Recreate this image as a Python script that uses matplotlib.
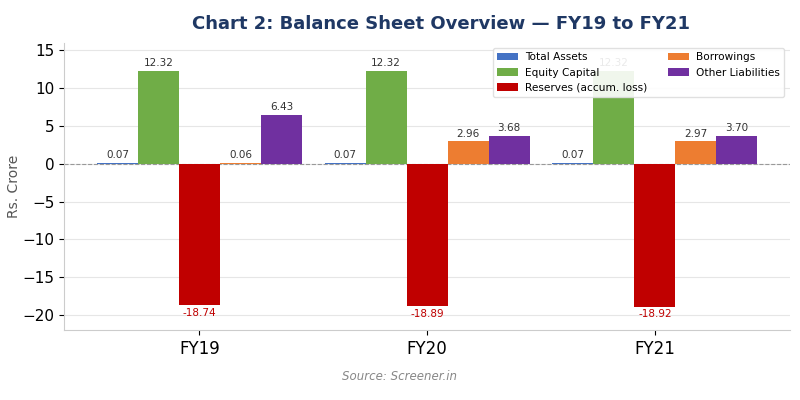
import matplotlib
matplotlib.use("Agg")
import matplotlib.pyplot as plt
import numpy as np

years = ["FY19", "FY20", "FY21"]
series_names = ["Total Assets", "Equity Capital", "Reserves (accum. loss)", "Borrowings", "Other Liabilities"]
total_assets = [0.07, 0.07, 0.07]
equity_capital = [12.32, 12.32, 12.32]
reserves = [-18.74, -18.89, -18.92]
borrowings = [0.06, 2.96, 2.97]
other_liabilities = [6.43, 3.68, 3.70]
colors = ["#4472C4", "#70AD47", "#C00000", "#ED7D31", "#7030A0"]

data = [total_assets, equity_capital, reserves, borrowings, other_liabilities]

fig, ax = plt.subplots(figsize=(8, 4), dpi=100)
fig.subplots_adjust(left=0.08, right=0.988, top=0.893, bottom=0.175)

x = np.arange(len(years))
w = 0.18
for i, (name, vals, c) in enumerate(zip(series_names, data, colors)):
    pos = x + (i - 2) * w
    ax.bar(pos, vals, w, color=c, label=name, zorder=3)
    for p, v in zip(pos, vals):
        if v >= 0:
            ax.annotate(f"{v:.2f}", (p, v), xytext=(0, 2), textcoords="offset points",
                        ha="center", va="bottom", fontsize=7.5, color="#333333", zorder=4)
        else:
            ax.annotate(f"{v:.2f}", (p, v), xytext=(0, -2), textcoords="offset points",
                        ha="center", va="top", fontsize=7.5, color="#C00000", zorder=4)

ax.axhline(0, color="#999999", linestyle="--", linewidth=0.8, zorder=2)
ax.set_ylim(-22, 16)
ax.set_yticks(np.arange(-20, 16, 5))
ax.set_xticks(x)
ax.set_xticklabels(years, fontsize=12)
ax.tick_params(axis="y", labelsize=11)
ax.set_ylabel("Rs. Crore", fontsize=10, color="#555555", labelpad=1)
ax.grid(axis="y", color="#e6e6e6", linewidth=0.8, zorder=0)
ax.set_axisbelow(True)
for s in ["top", "right"]:
    ax.spines[s].set_visible(False)
for s in ["left", "bottom"]:
    ax.spines[s].set_color("#cccccc")
ax.set_title("Chart 2: Balance Sheet Overview \u2014 FY19 to FY21", fontsize=13,
             fontweight="bold", color="#1F3864", pad=10, x=0.519)
ax.legend(loc="upper right", ncol=2, fontsize=7.6, framealpha=0.9, edgecolor="#dddddd",
          bbox_to_anchor=(0.998, 1.0), handletextpad=0.6)
fig.text(0.5, 0.05, "Source: Screener.in", ha="center", fontsize=8.5, style="italic", color="#888888")
fig.savefig("out.png")
